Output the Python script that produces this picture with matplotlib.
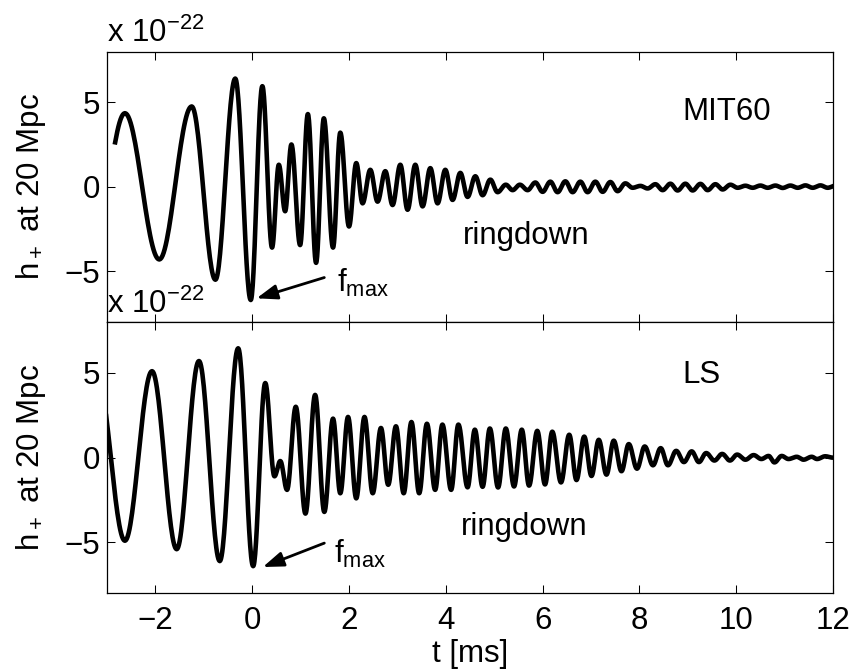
import numpy as np
import matplotlib
matplotlib.use("Agg")
from matplotlib import pyplot as plt

plt.rcParams['font.family'] = ['Liberation Sans', 'DejaVu Sans']
plt.rcParams['mathtext.default'] = 'regular'

# extrema of h+ (units of 1e-22), time in ms
mit_t = [-3.30, -2.63, -1.92, -1.25, -0.76, -0.35, -0.03, 0.21, 0.41, 0.55,
         0.68, 0.81, 0.99, 1.15, 1.32, 1.48, 1.67, 1.82, 2.00, 2.15,
         2.28, 2.44, 2.59, 2.75, 2.90, 3.06, 3.21, 3.37, 3.52, 3.68,
         3.83, 3.99, 4.14, 4.30, 4.45, 4.61, 4.76, 4.92, 5.07, 5.24,
         5.38, 5.53, 5.69, 5.85, 6.00, 6.16, 6.31, 6.47, 6.62, 6.78,
         6.93, 7.09, 7.24, 7.40, 7.55, 7.71, 7.86, 8.02, 8.17, 8.33,
         8.48, 8.64, 8.79, 8.95, 9.10, 9.26, 9.41, 9.57, 9.72, 9.88,
         10.03, 10.19, 10.34, 10.50, 10.65, 10.81, 10.96, 11.12, 11.27, 11.43,
         11.58, 11.74, 11.89, 12.05]
mit_h = [-4.00, 4.35, -4.30, 4.75, -5.50, 6.40, -6.70, 5.95, -3.60, 1.30,
         -1.45, 2.50, -3.45, 4.30, -4.50, 4.05, -3.60, 3.20, -2.35, 1.40,
         -0.98, 1.00, -0.88, 0.92, -1.08, 1.30, -1.36, 1.30, -1.16, 1.10,
         -0.98, 1.00, -0.78, 0.82, -0.60, 0.62, -0.50, 0.42, -0.32, 0.12,
         -0.20, 0.12, -0.20, 0.25, -0.30, 0.30, -0.32, 0.32, -0.32, 0.30,
         -0.32, 0.30, -0.30, 0.28, -0.26, 0.20, -0.06, 0.05, -0.10, 0.15,
         -0.20, 0.18, -0.22, 0.18, -0.22, 0.17, -0.20, 0.15, -0.16, 0.12,
         -0.06, 0.06, -0.06, 0.07, -0.06, 0.07, -0.07, 0.07, -0.06, 0.08,
         -0.06, 0.08, -0.06, 0.06]
mit_start = -2.84

ls_t = [-3.21, -2.63, -2.07, -1.56, -1.10, -0.67, -0.29, 0.02, 0.27, 0.46,
        0.58, 0.72, 0.90, 1.10, 1.30, 1.49, 1.67, 1.82, 1.98, 2.15,
        2.32, 2.49, 2.66, 2.81, 2.97, 3.13, 3.29, 3.45, 3.61, 3.78,
        3.93, 4.11, 4.26, 4.45, 4.60, 4.76, 4.91, 5.08, 5.24, 5.41,
        5.57, 5.72, 5.89, 6.05, 6.20, 6.38, 6.55, 6.70, 6.86, 7.01,
        7.16, 7.32, 7.47, 7.63, 7.78, 7.95, 8.11, 8.28, 8.44, 8.59,
        8.76, 8.92, 9.08, 9.23, 9.38, 9.55, 9.71, 9.87, 10.02, 10.19,
        10.36, 10.52, 10.67, 10.79, 10.94, 11.08, 11.25, 11.39, 11.56, 11.67,
        11.84, 12.00]
ls_h = [4.90, -4.90, 5.10, -5.40, 5.70, -6.10, 6.45, -6.40, 4.40, -1.10,
        -0.20, -1.90, 3.00, -3.30, 3.70, -3.20, 2.30, -2.10, 2.40, -2.40,
        2.40, -2.10, 1.75, -1.60, 1.85, -2.10, 2.10, -2.10, 2.00, -1.90,
        1.95, -1.90, 1.95, -1.75, 1.65, -1.72, 1.72, -1.76, 1.72, -1.70,
        1.65, -1.65, 1.58, -1.58, 1.53, -1.46, 1.35, -1.32, 1.24, -1.08,
        1.05, -1.00, 1.00, -0.80, 0.80, -0.65, 0.66, -0.45, 0.56, -0.45,
        0.40, -0.26, 0.37, -0.26, 0.27, -0.17, 0.22, -0.17, 0.18, -0.12,
        0.15, -0.08, 0.10, -0.28, 0.10, -0.08, 0.05, -0.12, 0.05, -0.08,
        0.08, 0.00]
ls_start = -3.21

panels = [
    dict(t=mit_t, h=mit_h, start=mit_start, name="MIT60", name_y=4.45,
         arrow_tail=(1.49, -5.37), arrow_head=(0.09, -6.60),
         f_pos=(1.76, -6.24), ring_pos=(4.35, -2.9)),
    dict(t=ls_t, h=ls_h, start=ls_start, name="LS", name_y=4.86,
         arrow_tail=(1.49, -5.04), arrow_head=(0.22, -6.45),
         f_pos=(1.70, -6.20), ring_pos=(4.32, -4.1)),
]


def waveform(t_ext, h_ext, n=30):
    '''Smooth curve through successive extrema using half-cosine steps.'''
    ts, hs = [], []
    for i in range(len(t_ext) - 1):
        s = np.linspace(0, 1, n, endpoint=False)
        ts.append(t_ext[i] + (t_ext[i + 1] - t_ext[i]) * s)
        hs.append(h_ext[i] + (h_ext[i + 1] - h_ext[i]) * (1 - np.cos(np.pi * s)) / 2)
    ts.append([t_ext[-1]])
    hs.append([h_ext[-1]])
    return np.concatenate(ts), np.concatenate(hs)


fig = plt.figure(figsize=(8.52, 6.71), dpi=100)
fs = 22.5
left, width = 107 / 852, 726 / 852
ax_top = fig.add_axes([left, 1 - 322 / 671, width, 270.5 / 671])
ax_bot = fig.add_axes([left, 1 - 593.3 / 671, width, 271.3 / 671])

for ax, p in zip([ax_top, ax_bot], panels):
    t, h = waveform(p['t'], p['h'])
    keep = t >= p['start']
    ax.plot(t[keep], h[keep], color='k', lw=3.3, solid_joinstyle='round')
    ax.set_xlim(-3, 12)
    ax.set_ylim(-8, 8)
    ax.set_yticks([-5, 0, 5])
    ax.set_xticks(range(-2, 13, 2))
    ax.tick_params(direction='in', top=True, right=True, length=5.5,
                   width=0.75, labelsize=fs, pad=5)
    for sp in ax.spines.values():
        sp.set_linewidth(0.9)
    ax.set_ylabel(r'h$_+$ at 20 Mpc', fontsize=fs, labelpad=12)
    ax.text(8.88, p['name_y'], p['name'], fontsize=fs, ha='left', va='center')
    ax.text(*p['ring_pos'], 'ringdown', fontsize=fs, ha='left', va='center')
    ax.annotate('', xy=p['arrow_head'], xytext=p['arrow_tail'],
                arrowprops=dict(arrowstyle='-|>,head_length=0.5,head_width=0.18',
                                color='k', lw=2, mutation_scale=25,
                                shrinkA=0, shrinkB=0))
    ax.text(*p['f_pos'], r'f$_{max}$', fontsize=fs, ha='left', va='baseline')
    ax.annotate(r'x 10$^{-22}$', xy=(0, 1), xycoords='axes fraction',
                xytext=(0, 6.5), textcoords='offset points',
                fontsize=fs, ha='left', va='baseline', annotation_clip=False)

ax_top.tick_params(labelbottom=False)
ax_bot.set_xlabel('t [ms]', fontsize=fs, labelpad=2)
ax_bot.tick_params(axis='x', pad=9)

fig.savefig('out.png', dpi=100)
